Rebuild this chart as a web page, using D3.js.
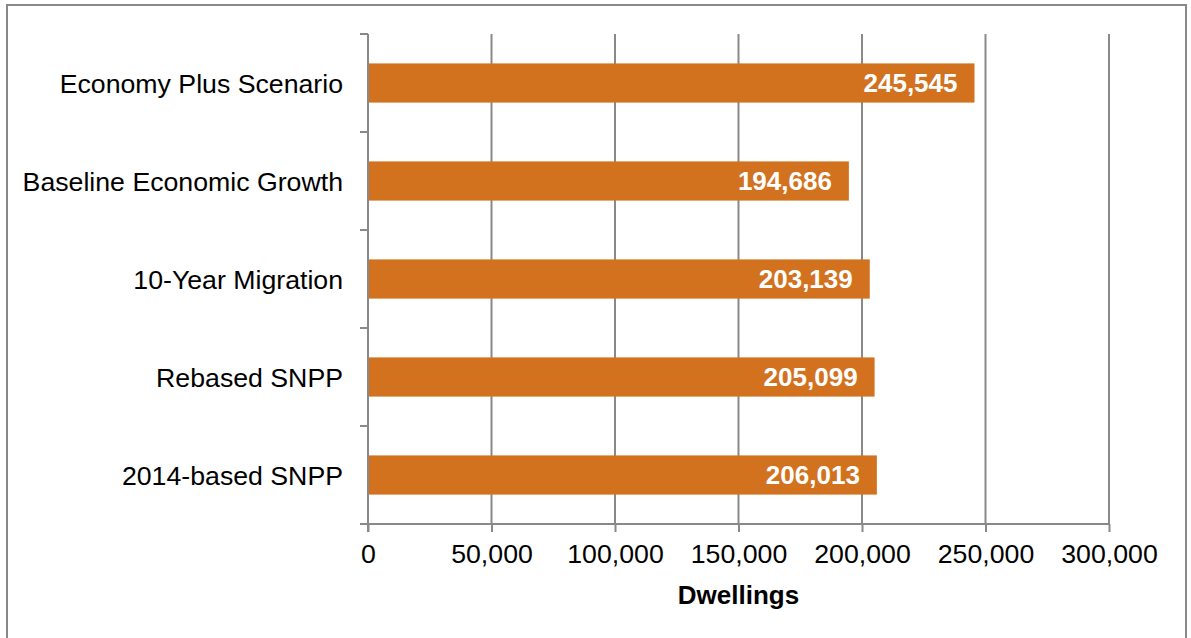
<!DOCTYPE html>
<html><head><meta charset="utf-8">
<script src="https://cdn.jsdelivr.net/npm/d3@7"></script>
<style>body{margin:0;background:#fff;} svg{display:block;font-family:"Liberation Sans",Arial,sans-serif;}</style>
</head><body>
<svg id="c" width="1191" height="638"></svg>
<script>
const categories = ["Economy Plus Scenario","Baseline Economic Growth","10-Year Migration","Rebased SNPP","2014-based SNPP"];
const values = [245545, 194686, 203139, 205099, 206013];
const xTicks = [0, 50000, 100000, 150000, 200000, 250000, 300000];
const xTitle = "Dwellings";

(function(){
const svg = d3.select("#c");
const W = 1191, H = 638;
const mL = 368, mR = 1109, mT = 34, mB = 524;
const grey = "#898989";
const fs = 26.7;

svg.append("rect").attr("x",7).attr("y",5).attr("width",1179).attr("height",H).attr("fill","none").attr("stroke",grey).attr("stroke-width",2);

const x = d3.scaleLinear().domain([0,300000]).range([mL,mR]);
const y = d3.scaleBand().domain(categories).range([mT,mB]).paddingInner(0.6).paddingOuter(0.3);

svg.append("g").selectAll("line").data(xTicks.slice(1)).join("line")
  .attr("x1",d=>x(d)).attr("x2",d=>x(d)).attr("y1",mT).attr("y2",mB)
  .attr("stroke",grey).attr("stroke-width",2);

svg.append("g").selectAll("rect").data(values).join("rect")
  .attr("x",x(0)).attr("y",(d,i)=>y(categories[i]))
  .attr("width",d=>x(d)-x(0)).attr("height",y.bandwidth())
  .attr("fill","#D2721F");

svg.append("g").selectAll("text").data(values).join("text")
  .attr("x",d=>x(d)-17).attr("y",(d,i)=>y(categories[i])+y.bandwidth()/2)
  .attr("dy","0.36em").attr("text-anchor","end")
  .attr("fill","#fff").attr("font-weight","bold").attr("font-size",26)
  .text(d=>d3.format(",")(d));

const xAxis = d3.axisBottom(x).tickValues(xTicks).tickFormat(d3.format(",")).tickSizeOuter(0).tickSize(8).tickPadding(12);
const gx = svg.append("g").attr("transform",`translate(0,${mB})`).call(xAxis);
gx.select(".domain").attr("stroke",grey).attr("stroke-width",2).attr("d",`M${mL-8},0H${mR}`);
gx.selectAll(".tick line").attr("stroke",grey).attr("stroke-width",2);
gx.selectAll(".tick text").attr("font-size",fs).attr("fill","#000").attr("font-family","Liberation Sans, Arial, sans-serif");

const bounds = [mT].concat(categories.map((c,i)=>mT + (i+1)*(mB-mT)/categories.length));
const gy = svg.append("g");
gy.append("line").attr("x1",mL).attr("x2",mL).attr("y1",mT).attr("y2",mB+8).attr("stroke",grey).attr("stroke-width",2);
gy.selectAll("line.t").data(bounds).join("line").attr("class","t")
  .attr("x1",mL-8).attr("x2",mL).attr("y1",d=>d).attr("y2",d=>d).attr("stroke",grey).attr("stroke-width",2);
gy.selectAll("text").data(categories).join("text")
  .attr("x",mL-25).attr("y",d=>y(d)+y.bandwidth()/2).attr("dy","0.36em")
  .attr("text-anchor","end").attr("font-size",fs).attr("fill","#000").text(d=>d);

svg.append("text").attr("x",(mL+mR)/2).attr("y",604).attr("text-anchor","middle")
  .attr("font-size",26).attr("font-weight","bold").attr("fill","#000").text(xTitle);
})();
</script>
</body></html>
